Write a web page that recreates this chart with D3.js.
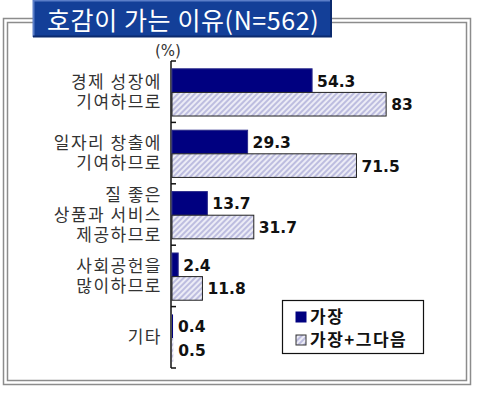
<!DOCTYPE html>
<html>
<head>
<meta charset="utf-8">
<script src="https://cdn.jsdelivr.net/npm/d3@7"></script>
<style>
  body { margin: 0; background: #fff; }
  svg { display: block; }
</style>
</head>
<body>
<script>
const width = 480, height = 395;

// data
const categories = ["경제 성장에\n기여하므로", "일자리 창출에\n기여하므로", "질 좋은\n상품과 서비스\n제공하므로", "사회공헌을\n많이하므로", "기타"];
const seriesNames = ["가장", "가장+그다음"];
const mostValues = [54.3, 29.3, 13.7, 2.4, 0.4];
const mostNextValues = [83, 71.5, 31.7, 11.8, 0.5];
const titleText = "호감이 가는 이유(N=562)";
const unitLabel = "(%)";

const korFont = "'Noto Sans CJK KR', 'Noto Sans', sans-serif";
const numFont = "'DejaVu Sans', Verdana, sans-serif";
const navy = "#000080";

const svg = d3.select("body")
  .append("svg")
  .attr("width", width)
  .attr("height", height);

const defs = svg.append("defs");
const hatch = defs.append("pattern")
  .attr("id", "hatch")
  .attr("patternUnits", "userSpaceOnUse")
  .attr("width", 4)
  .attr("height", 4)
  .attr("patternTransform", "rotate(45)");
hatch.append("rect").attr("width", 4).attr("height", 4).attr("fill", "#ececf6");
hatch.append("line")
  .attr("x1", 1).attr("y1", 0).attr("x2", 1).attr("y2", 4)
  .attr("stroke", "#a4a4d4").attr("stroke-width", 1.3);

// frame (double gray line)
svg.append("rect").attr("x", 3.5).attr("y", 18.5).attr("width", 467).attr("height", 366)
  .attr("fill", "none").attr("stroke", "#8c8c8c").attr("stroke-width", 1.5);
svg.append("rect").attr("x", 7.5).attr("y", 22.5).attr("width", 459).attr("height", 358)
  .attr("fill", "none").attr("stroke", "#8c8c8c").attr("stroke-width", 1.5);

// title box
svg.append("rect").attr("x", 33).attr("y", -2).attr("width", 299).attr("height", 39)
  .attr("fill", "#133f98");
svg.append("path").attr("d", "M33.5,37 V-2 M33,0.5 H332")
  .attr("stroke", "#5b7ec8").attr("stroke-width", 2).attr("fill", "none");
svg.append("path").attr("d", "M331,-2 V36.5 H33")
  .attr("stroke", "#0b2a6e").attr("stroke-width", 2).attr("fill", "none");
svg.append("text")
  .attr("x", 47).attr("y", 30)
  .attr("fill", "#fff")
  .attr("font-family", korFont)
  .attr("font-size", 25)
  .attr("letter-spacing", 0.6)
  .text(titleText);

// scales
const x = d3.scaleLinear().domain([0, 100]).range([172, 430]);
const y = d3.scaleBand().domain(categories).range([61, 368]).padding(0);
const ySub = d3.scaleBand().domain(seriesNames).range([0, y.bandwidth()]).paddingInner(0).paddingOuter(0.3).align(0.55);

// axis line and ticks at band boundaries
const axisX = 171;
svg.append("line").attr("x1", axisX).attr("x2", axisX).attr("y1", y.range()[0]).attr("y2", y.range()[1])
  .attr("stroke", "#111").attr("stroke-width", 1.5);
const boundaries = categories.map(c => y(c)).concat([y.range()[1]]);
svg.selectAll("line.tick").data(boundaries).enter()
  .append("line").attr("class", "tick")
  .attr("x1", axisX).attr("x2", axisX + 5)
  .attr("y1", d => d).attr("y2", d => d)
  .attr("stroke", "#111").attr("stroke-width", 1.5);

svg.append("text")
  .attr("x", 168).attr("y", 56)
  .attr("text-anchor", "middle")
  .attr("fill", "#333")
  .attr("font-family", numFont)
  .attr("font-size", 15)
  .text(unitLabel);

// category labels
const catG = svg.selectAll("text.cat").data(categories).enter()
  .append("text").attr("class", "cat")
  .attr("text-anchor", "end")
  .attr("fill", "#333")
  .attr("font-family", korFont)
  .attr("font-size", 17)
  .attr("letter-spacing", 1.5);
catG.each(function (d) {
  const lines = d.split("\n");
  const cy = y(d) + y.bandwidth() / 2;
  const top = cy - (lines.length - 1) * 10;
  d3.select(this).selectAll("tspan").data(lines).enter()
    .append("tspan")
    .attr("x", 162)
    .attr("y", (l, i) => top + i * 20 + 6)
    .text(l => l);
});

// bars
const rows = categories.map((c, i) => ({ cat: c, vals: [mostValues[i], mostNextValues[i]] }));
const group = svg.selectAll("g.row").data(rows).enter()
  .append("g").attr("class", "row")
  .attr("transform", d => `translate(0,${y(d.cat)})`);

group.selectAll("rect").data(d => d.vals.map((v, i) => ({ v, s: seriesNames[i] }))).enter()
  .append("rect")
  .attr("x", x(0))
  .attr("y", d => ySub(d.s))
  .attr("width", d => x(d.v) - x(0))
  .attr("height", ySub.bandwidth())
  .attr("fill", d => d.s === seriesNames[0] ? navy : "url(#hatch)")
  .attr("stroke", d => d.s === seriesNames[0] ? "#2a2a8a" : "#222")
  .attr("stroke-width", d => d.v < 1 ? 0 : 1);

group.selectAll("text").data(d => d.vals.map((v, i) => ({ v, s: seriesNames[i] }))).enter()
  .append("text")
  .attr("x", d => x(d.v) + 5)
  .attr("y", d => ySub(d.s) + ySub.bandwidth() / 2 + 6)
  .attr("fill", "#111")
  .attr("font-family", numFont)
  .attr("font-weight", "bold")
  .attr("font-size", 15.5)
  .text(d => d.v);

// legend
const legend = svg.append("g").attr("transform", "translate(282,300)");
legend.append("rect").attr("x", 0.5).attr("y", 0.5).attr("width", 141).attr("height", 53)
  .attr("fill", "#fff").attr("stroke", "#111").attr("stroke-width", 1.2);
const items = legend.selectAll("g").data(seriesNames).enter()
  .append("g").attr("transform", (d, i) => `translate(14,${17 + i * 23})`);
items.append("rect")
  .attr("x", 0).attr("y", -5).attr("width", 10).attr("height", 10)
  .attr("fill", (d, i) => i === 0 ? navy : "url(#hatch)")
  .attr("stroke", (d, i) => i === 0 ? navy : "#333")
  .attr("stroke-width", 1);
items.append("text")
  .attr("x", 14).attr("y", 6)
  .attr("fill", "#111")
  .attr("font-family", korFont)
  .attr("font-weight", "bold")
  .attr("font-size", 17)
  .attr("letter-spacing", 1.5)
  .text(d => d);
</script>
</body>
</html>
